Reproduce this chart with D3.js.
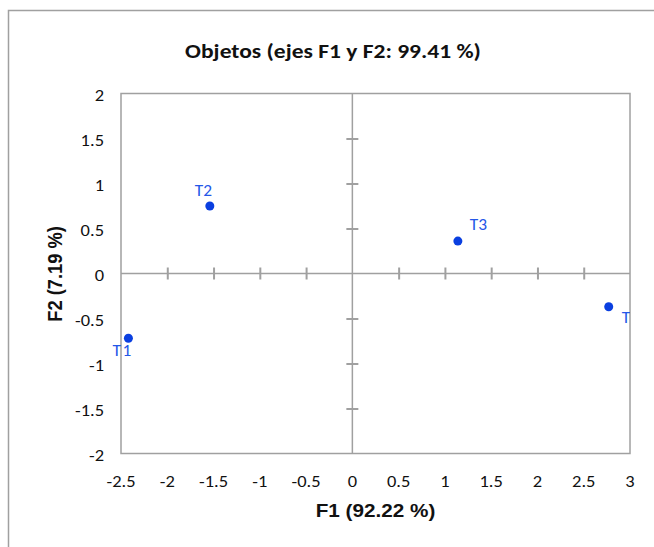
<!DOCTYPE html>
<html>
<head>
<meta charset="utf-8">
<script src="https://cdn.jsdelivr.net/npm/d3@7"></script>
<style>
  body { margin: 0; background: #fff; }
  svg { display: block; }
</style>
</head>
<body>
<div id="chart"></div>
<script>
// observations (XLSTAT style biplot, F1/F2)
var obsNames = ["T1", "T2", "T3", "T4"];
var f1Values = [-2.42, -1.54, 1.14, 2.77];
var f2Values = [-0.72, 0.75, 0.36, -0.37];

var xTicks = [-2.5, -2, -1.5, -1, -0.5, 0, 0.5, 1, 1.5, 2, 2.5, 3];
var yTicks = [-2, -1.5, -1, -0.5, 0, 0.5, 1, 1.5, 2];

var chartTitle = "Objetos (ejes F1 y F2: 99.41 %)";
var xTitle = "F1 (92.22 %)";
var yTitle = "F2 (7.19 %)";

var W = 654, H = 547;
var plot = {left: 121, top: 93.5, right: 630, bottom: 453.5};
var grey = "#a0a0a0";
var tickFont = "Carlito, Lato, sans-serif";
var stretch = 1.12; // the original picture is a bit wider than tall

var svg = d3.select("#chart").append("svg")
    .attr("width", W)
    .attr("height", H);

// put a text at (px,py) stretched horizontally like the source
function place(px, py) {
    return "translate(" + px + "," + py + ") scale(" + stretch + ",1)";
}

// outer chart frame (runs off the picture right & bottom)
svg.append("rect")
    .attr("x", 8.5).attr("y", 10.5)
    .attr("width", 700).attr("height", 600)
    .attr("fill", "none")
    .attr("stroke", grey)
    .attr("stroke-width", 1.5);

var x = d3.scaleLinear().domain([-2.5, 3]).range([plot.left, plot.right]);
var y = d3.scaleLinear().domain([-2, 2]).range([plot.bottom, plot.top]);

svg.append("defs").append("clipPath").attr("id", "plotClip")
  .append("rect")
    .attr("x", 0).attr("y", plot.top)
    .attr("width", plot.right).attr("height", plot.bottom - plot.top);

// plot area border
svg.append("rect")
    .attr("x", plot.left).attr("y", plot.top)
    .attr("width", plot.right - plot.left)
    .attr("height", plot.bottom - plot.top)
    .attr("fill", "none")
    .attr("stroke", grey)
    .attr("stroke-width", 1.5);

// axes crossing at zero, ticks drawn as crosses
var xAxis = d3.axisBottom(x)
    .tickValues(xTicks.filter(function(d) { return d > -2.5 && d < 3 && d !== 0; }))
    .tickSize(12)
    .tickFormat("");
var gx = svg.append("g")
    .attr("transform", "translate(0," + (y(0) - 6) + ")")
    .call(xAxis);
gx.select(".domain").remove();
gx.selectAll("line").attr("stroke", grey).attr("stroke-width", 2);
svg.append("line")
    .attr("x1", plot.left).attr("x2", plot.right)
    .attr("y1", y(0)).attr("y2", y(0))
    .attr("stroke", grey).attr("stroke-width", 1.5);

var yAxis = d3.axisLeft(y)
    .tickValues(yTicks.filter(function(d) { return d > -2 && d < 2 && d !== 0; }))
    .tickSize(12)
    .tickFormat("");
var gy = svg.append("g")
    .attr("transform", "translate(" + (x(0) + 6) + ",0)")
    .call(yAxis);
gy.select(".domain").remove();
gy.selectAll("line").attr("stroke", grey).attr("stroke-width", 2);
svg.append("line")
    .attr("x1", x(0)).attr("x2", x(0))
    .attr("y1", plot.top).attr("y2", plot.bottom)
    .attr("stroke", grey).attr("stroke-width", 1.5);

// tick labels around the plot frame
svg.append("g").selectAll("text")
    .data(xTicks)
    .join("text")
    .attr("transform", function(d) { return place(x(d), 487); })
    .attr("text-anchor", "middle")
    .attr("font-family", tickFont)
    .attr("font-size", 16.5)
    .attr("fill", "#111")
    .text(function(d) { return d; });

svg.append("g").selectAll("text")
    .data(yTicks)
    .join("text")
    .attr("transform", function(d) { return place(104, y(d) + 7.5); })
    .attr("text-anchor", "end")
    .attr("font-family", tickFont)
    .attr("font-size", 16.5)
    .attr("fill", "#111")
    .text(function(d) { return d; });

// titles
svg.append("text")
    .attr("transform", place(333, 58))
    .attr("text-anchor", "middle")
    .attr("font-family", tickFont)
    .attr("font-weight", "bold")
    .attr("font-size", 21)
    .attr("fill", "#111")
    .text(chartTitle);

svg.append("text")
    .attr("transform", place(375.5, 517))
    .attr("text-anchor", "middle")
    .attr("font-family", "Liberation Sans, Arial, sans-serif")
    .attr("font-weight", "bold")
    .attr("font-size", 18.5)
    .attr("fill", "#111")
    .text(xTitle);

svg.append("text")
    .attr("transform", "translate(61.5,274) rotate(-90) scale(1," + stretch + ")")
    .attr("text-anchor", "middle")
    .attr("font-family", "Liberation Sans, Arial, sans-serif")
    .attr("font-weight", "bold")
    .attr("font-size", 18.3)
    .attr("fill", "#111")
    .text(yTitle);

// points
var pts = obsNames.map(function(n, i) { return {name: n, f1: f1Values[i], f2: f2Values[i]}; });

svg.append("g").selectAll("circle")
    .data(pts)
    .join("circle")
    .attr("cx", function(d) { return x(d.f1); })
    .attr("cy", function(d) { return y(d.f2); })
    .attr("r", 4.5)
    .attr("fill", "#0a3fe0");

// label placement as XLSTAT left it (dx, dy from the point, letter spacing)
var labelShift = [[-16, 18, 1.5], [-15, -10.5, 0], [12, -10.7, 0], [13, 16.3, 0]];
svg.append("g")
    .attr("clip-path", "url(#plotClip)")
  .selectAll("text")
    .data(pts)
    .join("text")
    .attr("transform", function(d, i) {
        return place(x(d.f1) + labelShift[i][0], y(d.f2) + labelShift[i][1]);
    })
    .attr("letter-spacing", function(d, i) { return labelShift[i][2]; })
    .attr("font-family", tickFont)
    .attr("font-size", 15.5)
    .attr("fill", "#2457e8")
    .text(function(d) { return d.name; });
</script>
</body>
</html>
